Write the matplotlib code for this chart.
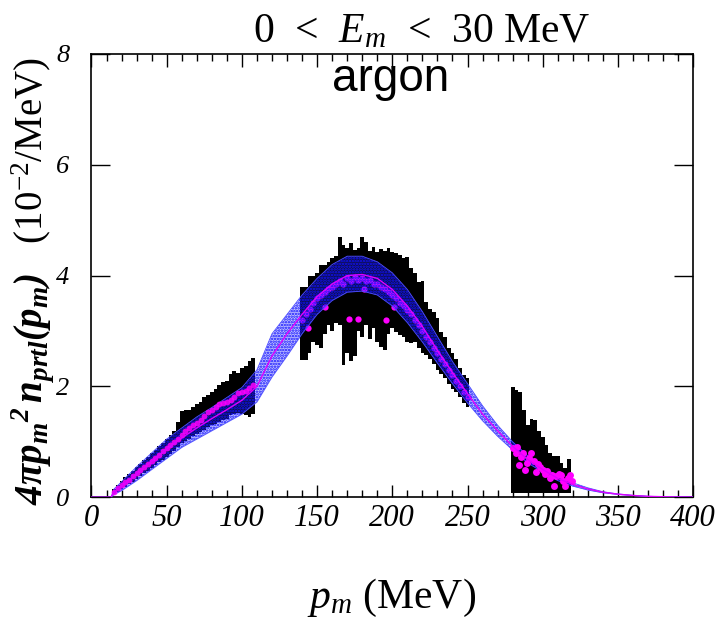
"""Momentum distribution of argon, 0 < Em < 30 MeV."""

import matplotlib

matplotlib.use("Agg")
import matplotlib.pyplot as plt
import numpy as np
from matplotlib.ticker import MultipleLocator, NullLocator

plt.rcParams["font.family"] = ["Liberation Serif", "DejaVu Serif"]
plt.rcParams["mathtext.fontset"] = "custom"
plt.rcParams["mathtext.rm"] = "Liberation Serif"
plt.rcParams["mathtext.it"] = "Liberation Serif:italic"
plt.rcParams["mathtext.bf"] = "Liberation Serif:italic:bold"
plt.rcParams["hatch.linewidth"] = 1.2

# theory band (lower, upper) and central curve
p_th = [0, 10, 13, 15, 20, 30, 40, 50, 60, 70, 80, 90, 100, 110, 120, 130,
        140, 150, 160, 170, 180, 190, 200, 210, 220, 230, 240, 250, 260, 270,
        280, 290, 300, 310, 320, 330, 340, 350, 360, 370, 380, 390, 400]
th_lo = [0, 0, 0.0, 0.05, 0.12, 0.30, 0.50, 0.70, 0.90, 1.05, 1.20, 1.35, 1.50,
         1.72, 2.17, 2.55, 2.95, 3.30, 3.55, 3.70, 3.72, 3.65, 3.45, 3.15,
         2.80, 2.42, 2.05, 1.70, 1.38, 1.10, 0.85, 0.62, 0.45, 0.30, 0.20,
         0.13, 0.08, 0.05, 0.03, 0.015, 0.008, 0.004, 0.002]
th_hi = [0, 0, 0.0, 0.15, 0.28, 0.55, 0.80, 1.05, 1.25, 1.45, 1.62, 1.80, 1.98,
         2.30, 2.95, 3.30, 3.65, 3.95, 4.20, 4.35, 4.35, 4.25, 4.05, 3.75,
         3.35, 2.90, 2.45, 2.05, 1.65, 1.30, 1.00, 0.75, 0.55, 0.38, 0.26,
         0.17, 0.10, 0.06, 0.035, 0.018, 0.010, 0.005, 0.002]
th_mid = [0, 0, 0.0, 0.10, 0.20, 0.42, 0.65, 0.87, 1.07, 1.25, 1.42, 1.58, 1.75,
          2.00, 2.55, 2.95, 3.30, 3.62, 3.85, 4.00, 4.02, 3.95, 3.75, 3.45,
          3.08, 2.65, 2.25, 1.87, 1.50, 1.20, 0.92, 0.68, 0.50, 0.34, 0.23,
          0.15, 0.09, 0.055, 0.032, 0.016, 0.009, 0.004, 0.002]

# data, region 1 (error bar ends and central values)
p_d1 = [15, 17.5, 20, 22.5, 25, 27.5, 30, 32.5, 35, 37.5, 40, 42.5, 45, 47.5,
        50, 52.5, 55, 57.5, 60, 62.5, 65, 67.5, 70, 72.5, 75, 77.5, 80, 82.5,
        85, 87.5, 90, 92.5, 95, 97.5, 100, 102.5, 105, 107.5]
hi_d1 = [0.15, 0.22, 0.30, 0.36, 0.42, 0.48, 0.55, 0.60, 0.67, 0.73, 0.80, 0.86,
         0.92, 0.98, 1.05, 1.12, 1.20, 1.35, 1.55, 1.57, 1.58, 1.62, 1.68, 1.72,
         1.80, 1.85, 1.90, 1.95, 2.02, 2.08, 2.10, 2.22, 2.28, 2.25, 2.33, 2.36,
         2.45, 2.52]
lo_d1 = [0.05, 0.10, 0.14, 0.18, 0.23, 0.28, 0.33, 0.38, 0.43, 0.48, 0.53, 0.58,
         0.63, 0.68, 0.73, 0.78, 0.84, 0.90, 0.98, 1.02, 1.06, 1.10, 1.14, 1.18,
         1.22, 1.26, 1.30, 1.33, 1.36, 1.40, 1.42, 1.48, 1.50, 1.52, 1.50, 1.48,
         1.45, 1.50]
y_d1 = [0.10, 0.16, 0.22, 0.27, 0.32, 0.38, 0.44, 0.49, 0.55, 0.60, 0.66, 0.71,
        0.77, 0.83, 0.89, 0.95, 1.00, 1.06, 1.12, 1.20, 1.25, 1.30, 1.34, 1.40,
        1.47, 1.53, 1.58, 1.62, 1.68, 1.70, 1.72, 1.76, 1.80, 1.88, 1.90, 1.92,
        1.98, 2.02]

# data, region 2
p_d2 = [140, 142.5, 145, 147.5, 150, 152.5, 155, 157.5, 160, 162.5, 165, 167.5,
        170, 172.5, 175, 177.5, 180, 182.5, 185, 187.5, 190, 192.5, 195, 197.5,
        200, 202.5, 205, 207.5, 210, 212.5, 215, 217.5, 220, 222.5, 225, 227.5,
        230, 232.5, 235, 237.5, 240, 242.5, 245, 247.5, 250]
hi_d2 = [3.79, 3.79, 4.00, 4.00, 4.05, 4.19, 4.20, 4.25, 4.31, 4.35, 4.69, 4.55,
         4.50, 4.58, 4.46, 4.50, 4.69, 4.60, 4.45, 4.52, 4.42, 4.48, 4.45, 4.49,
         4.42, 4.40, 4.37, 4.31, 4.33, 4.13, 4.05, 3.88, 3.90, 3.52, 3.40, 3.34,
         3.23, 2.98, 2.90, 2.69, 2.60, 2.50, 2.33, 2.20, 2.15]
lo_d2 = [2.47, 2.47, 2.60, 2.80, 2.75, 2.70, 2.95, 3.10, 3.00, 3.15, 3.10, 2.38,
         2.60, 2.45, 2.55, 3.00, 2.90, 3.10, 2.85, 3.05, 2.80, 2.72, 2.65, 2.95,
         3.05, 2.98, 2.92, 2.90, 2.80, 2.78, 2.80, 2.70, 2.60, 2.56, 2.50, 2.40,
         2.30, 2.22, 2.15, 2.05, 1.95, 1.90, 1.80, 1.70, 1.62]
y_d2 = [3.20, 3.30, 3.40, 3.50, 3.60, 3.65, 3.70, 3.75, 3.80, 3.85, 3.90, 3.85,
        3.95, 3.90, 3.98, 3.92, 3.95, 3.90, 3.92, 3.85, 3.85, 3.80, 3.75, 3.70,
        3.65, 3.60, 3.50, 3.45, 3.38, 3.30, 3.20, 3.10, 3.00, 2.90, 2.80, 2.70,
        2.60, 2.50, 2.40, 2.30, 2.20, 2.10, 2.00, 1.90, 1.80]
# scattered points below the main trend
p_out2 = [143.7, 155, 171.4, 177, 181.5, 196, 201]
y_out2 = [3.05, 3.43, 3.21, 3.21, 3.75, 3.19, 3.43]

# data, region 3
p_d3 = [280, 282.5, 285, 287.5, 290, 292.5, 295, 297.5, 300, 302.5, 305, 307.5,
        310, 312.5, 315, 317.5]
hi_d3 = [1.99, 1.93, 1.90, 1.58, 1.30, 1.42, 1.40, 1.20, 1.08, 0.94, 0.79, 0.75,
         0.75, 0.61, 0.52, 0.69]
lo_d3 = [0.07, 0.07, 0.07, 0.07, 0.07, 0.07, 0.07, 0.07, 0.07, 0.07, 0.07, 0.07,
         0.07, 0.07, 0.07, 0.07]
p_pt3 = [280.5, 282, 283, 284, 285.5, 287, 288, 289.5, 291, 292.5, 294, 295.5,
         297, 298.5, 300, 301.5, 303, 304.5, 306, 307.5, 309, 310.5, 312, 313.5,
         315, 316.5, 318, 319.5]
y_pt3 = [0.88, 0.80, 0.90, 0.58, 0.72, 0.79, 0.49, 0.62, 0.70, 0.80, 0.66, 0.45,
         0.60, 0.55, 0.50, 0.42, 0.48, 0.35, 0.40, 0.20, 0.38, 0.42, 0.40, 0.30,
         0.20, 0.35, 0.40, 0.30]

fig = plt.figure(figsize=(7.18, 6.2), dpi=100)
ax = fig.add_axes([0.1274, 0.198, 0.838, 0.715])

step = 2.5
for p, lo, hi in ((p_d1, lo_d1, hi_d1), (p_d2, lo_d2, hi_d2), (p_d3, lo_d3, hi_d3)):
    lo = np.asarray(lo)
    hi = np.asarray(hi)
    ax.bar(p, hi - lo, bottom=lo, width=step, color="black", lw=0, zorder=1)

pink = "#ff00ff"
ax.plot(p_d1, y_d1, "o", color=pink, ms=4.2, mew=0, alpha=0.85, zorder=4)
ax.plot(p_d2, y_d2, "o", color=pink, ms=4.5, mew=0, zorder=2)
ax.plot(p_out2, y_out2, "o", color=pink, ms=4.5, mew=0, zorder=2)
ax.plot(p_pt3, y_pt3, "o", color=pink, ms=5, mew=0, zorder=4)

ax.fill_between(p_th, th_lo, th_hi, color="#3030ff", alpha=0.3, lw=0, zorder=3)
ax.fill_between(p_th, th_lo, th_hi, facecolor="none", edgecolor="#1010ff",
                hatch="......", lw=0, zorder=3)
ax.plot(p_th, th_lo, color="#5050ff", lw=0.6, zorder=3)
ax.plot(p_th, th_hi, color="#5050ff", lw=0.6, zorder=3)
ax.plot(p_th, th_mid, color="#e000ff", lw=1.0, zorder=5)

ax.set_xlim(0, 400)
ax.set_ylim(0, 8)
ax.xaxis.set_major_locator(MultipleLocator(50))
ax.xaxis.set_minor_locator(MultipleLocator(10))
ax.yaxis.set_major_locator(MultipleLocator(2))
ax.yaxis.set_minor_locator(NullLocator())
ax.tick_params(which="both", direction="in", top=True, right=True, width=1.0)
ax.tick_params(axis="x", which="major", length=9, pad=5, labelsize=22)
ax.tick_params(axis="x", which="minor", length=5)
ax.tick_params(axis="y", which="major", length=14, pad=16, labelsize=19)
for lab in ax.get_xticklabels() + ax.get_yticklabels():
    lab.set_fontstyle("italic")
for s in ax.spines.values():
    s.set_linewidth(1.2)

ax.text(199, 7.55, "argon", family="Liberation Sans", fontsize=33,
        ha="center", va="center")

fig.text(0.588, 0.932, r"0  <  $E_m$  <  30 MeV", fontsize=30, ha="center",
         va="baseline")
fig.text(0.545, 0.02, r"$p_m$ (MeV)", fontsize=30, ha="center", va="baseline")
fig.text(0.046, 0.547,
         r"$\mathbf{4\pi p_m{}^2\,n_{prtl}(p_m)}$   (10$^{-2}$/MeV)",
         fontsize=28, rotation=90, ha="center", va="center")

fig.savefig("out.png", dpi=100)
